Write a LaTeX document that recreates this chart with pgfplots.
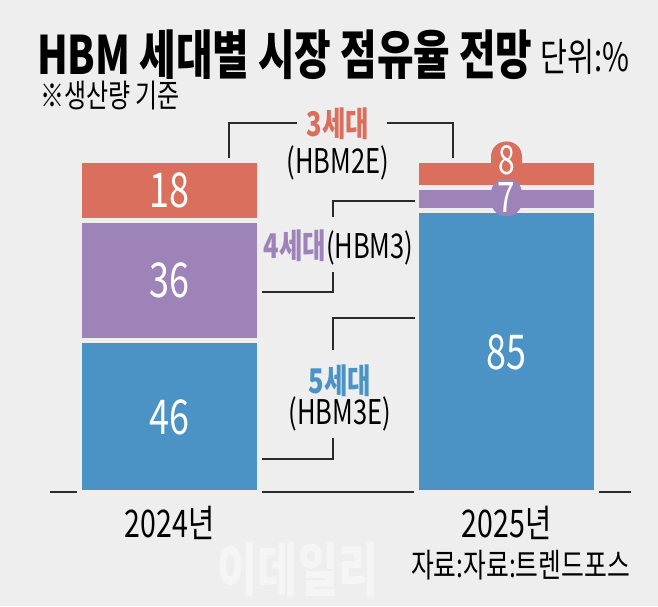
\documentclass[border=0pt]{standalone}
\usepackage{pgfplots}
\usepackage{pgfplotstable}
\pgfplotsset{compat=1.18}
\usepackage{fontspec}
\setmainfont{Noto Sans CJK KR}[FakeStretch=0.75]
\definecolor{bg}{HTML}{EEEEEE}
\definecolor{cred}{HTML}{DA6F5D}
\definecolor{cpur}{HTML}{9D83B8}
\definecolor{cblue}{HTML}{4A93C4}
\definecolor{lin}{HTML}{2A2A2A}
\newcommand{\fs}[1]{\fontsize{#1}{#1}\selectfont}
% segment values (share, %)
\pgfplotstableread{
x    gen5 gen4 gen3
119.5 46  36  18
456.5 85   7   8
}\shares
% label positions (segment centres) and values
\pgfplotstableread{
x     y    lab
119.5 23   46
119.5 64   36
119.5 91   18
456.5 42.5 85
}\inlabels
\begin{document}
\begin{tikzpicture}[x=1pt,y=1pt]
\fill[bg] (0,0) rectangle (658,606);
\useasboundingbox (0,0) rectangle (658,606);
\pgfplotsset{geom/.style={
  at={(50pt,114pt)}, anchor=south west, scale only axis,
  width=581pt, height=331.5pt, xmin=0, xmax=581, ymin=0.7485, ymax=100,
  clip=false}}
% bars
\begin{axis}[geom, ybar stacked, bar width=180pt,
  axis x line*=bottom, axis y line=none,
  x axis line style={draw=lin, line width=1.5pt},
  xtick={119.5,456.5}, xticklabels={2024년,2025년},
  major tick length=0pt,
  xticklabel style={anchor=center, yshift=-31pt, font=\fs{38}, text=black},
  ]
\addplot[fill=cblue, draw=bg, line width=5pt] table[x=x, y=gen5] {\shares};
\addplot[fill=cpur, draw=bg, line width=5pt] table[x=x, y=gen4] {\shares};
\addplot[fill=cred, draw=bg, line width=5pt] table[x=x, y=gen3] {\shares};
\end{axis}
% value labels
\begin{axis}[geom, hide axis]
\addplot[only marks, mark=none, point meta=explicit symbolic,
  nodes near coords={\fs{48}\color{white}\pgfplotspointmeta},
  every node near coord/.style={anchor=center, inner sep=0pt}]
  table[x=x, y=y, meta=lab] {\inlabels};
\addplot[only marks, mark=none, point meta=explicit symbolic,
  nodes near coords={\fs{42}\color{white}\pgfplotspointmeta},
  every node near coord/.style={anchor=center, fill=cpur, rounded corners=15pt,
    minimum width=31pt, minimum height=38pt, inner sep=0pt}]
  table[x=x, y=y, meta=lab] {
x y lab
456.5 89 7
};
\addplot[only marks, mark=none, point meta=explicit symbolic,
  nodes near coords={\fs{40}\color{white}\pgfplotspointmeta},
  every node near coord/.style={anchor=center, fill=cred, rounded corners=15pt,
    minimum width=31pt, minimum height=38pt, inner sep=0pt}]
  table[x=x, y=y, meta=lab] {
x y lab
456.5 100 8
};
\end{axis}
% titles
\node[anchor=base west, inner sep=0pt, font=\fs{53}\bfseries] at (37,531) {HBM 세대별 시장 점유율 전망};
\node[anchor=base west, inner sep=0pt, font=\fs{39}] at (540,534) {단위:\%};
\node[anchor=base west, inner sep=0pt, font=\fs{32}] at (40,498) {※생산량 기준};
% brackets
\begin{scope}[draw=lin, line width=1.5pt]
\draw (229,448) -- (229,483) -- (297,483);
\draw (387,483) -- (453,483) -- (453,448);
\draw (415,405) -- (333,405) -- (333,389);
\draw (333,334) -- (333,314) -- (262,314);
\draw (415,288) -- (333,288) -- (333,256);
\draw (333,168) -- (333,147) -- (262,147);
\end{scope}
\node[font=\fs{34}\bfseries, text=cred, inner sep=0pt] at (338,482) {3세대};
\node[font=\fs{34}, inner sep=0pt] at (338,443) {(HBM2E)};
\node[font=\fs{34}, inner sep=0pt] at (338.5,359) {\textcolor{cpur}{\bfseries 4세대}(HBM3)};
\node[font=\fs{34}\bfseries, text=cblue, inner sep=0pt] at (340,225) {5세대};
\node[font=\fs{34}, inner sep=0pt] at (340,192) {(HBM3E)};
% watermark and source
\node[font=\fs{58}\bfseries, text=white, opacity=0.45, inner sep=0pt] at (298,36) {이데일리};
\node[anchor=east, font=\fs{33}, inner sep=0pt] at (630,41) {자료:자료:트렌드포스};
\end{tikzpicture}
\end{document}
